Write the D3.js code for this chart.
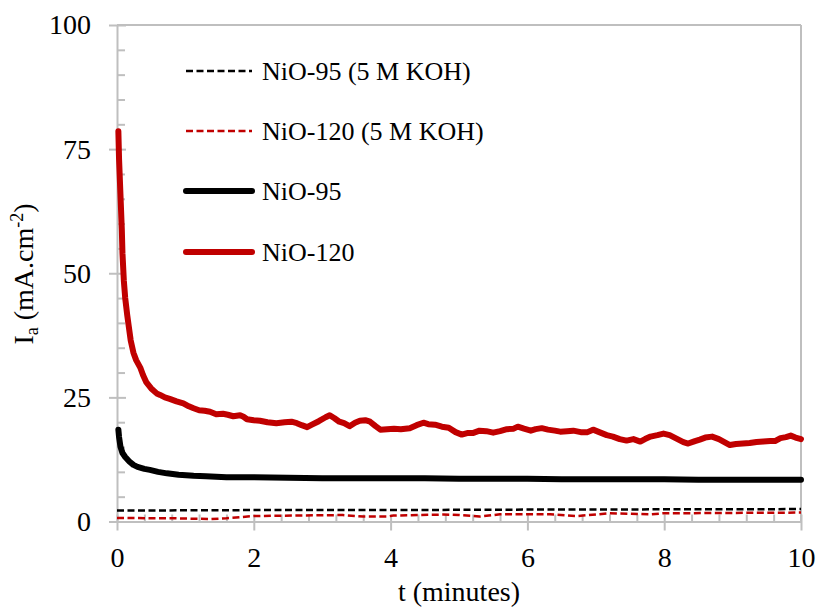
<!DOCTYPE html>
<html>
<head>
<meta charset="utf-8">
<script src="https://cdn.jsdelivr.net/npm/d3@7"></script>
<style>
  html, body { margin: 0; padding: 0; background: #fff; }
  svg { display: block; }
  text { font-family: "Liberation Serif", "Times New Roman", serif; fill: #000; }
</style>
</head>
<body>
<svg id="chart" width="818" height="607"></svg>
<script>
// ---------- data ----------
const xTicks = [0, 2, 4, 6, 8, 10];
const yTicks = [0, 25, 50, 75, 100];

const seriesNames = ["NiO-95 (5 M KOH)", "NiO-120 (5 M KOH)", "NiO-95", "NiO-120"];

// NiO-120 (solid red)
const red120T = [0.02,0.03,0.05,0.07,0.08,0.10,0.12,0.15,0.17,0.20,0.24,0.28,0.34,0.38,0.43,0.50,0.58,0.63,0.70,0.77,0.87,0.97,1.05,1.12,1.20,1.28,1.36,1.45,1.55,1.62,1.70,1.80,1.85,1.90,2.00,2.09,2.20,2.33,2.45,2.55,2.63,2.70,2.78,2.85,2.95,3.05,3.11,3.18,3.25,3.32,3.40,3.48,3.55,3.63,3.70,3.78,3.85,3.95,4.05,4.15,4.28,4.38,4.48,4.55,4.65,4.75,4.85,4.95,5.04,5.12,5.20,5.30,5.40,5.50,5.60,5.70,5.80,5.86,5.95,6.05,6.12,6.21,6.30,6.40,6.48,6.58,6.67,6.78,6.88,6.96,7.05,7.16,7.25,7.35,7.45,7.55,7.65,7.72,7.80,7.90,7.99,8.08,8.18,8.28,8.35,8.45,8.52,8.60,8.70,8.80,8.88,8.96,9.05,9.15,9.25,9.35,9.45,9.55,9.62,9.70,9.78,9.85,9.92,10.0];
const red120I = [78.6,73,66,59,54,48.5,45,41.5,39.5,36.5,34,32.5,31,29.5,28,26.8,25.8,25.5,25,24.7,24.2,23.8,23.2,22.8,22.4,22.3,22.1,21.6,21.7,21.5,21.2,21.4,21.1,20.6,20.4,20.3,20.0,19.8,20.0,20.1,19.8,19.4,19.0,19.5,20.2,21.0,21.4,20.8,20.1,19.8,19.2,19.9,20.3,20.4,20.1,19.2,18.5,18.6,18.7,18.6,18.8,19.4,19.9,19.6,19.5,19.1,18.9,18.0,17.5,17.8,17.8,18.3,18.2,17.9,18.2,18.6,18.7,19.1,18.7,18.3,18.6,18.8,18.5,18.3,18.1,18.2,18.3,18.0,18.0,18.5,18.0,17.4,17.1,16.6,16.3,16.6,16.1,16.6,17.1,17.4,17.7,17.4,16.7,16.0,15.7,16.2,16.5,16.9,17.1,16.6,16.0,15.4,15.6,15.7,15.8,16.0,16.1,16.2,16.2,16.8,17.0,17.3,16.9,16.6];

// NiO-95 (solid black)
const black95T = [0.02,0.03,0.05,0.08,0.12,0.18,0.24,0.30,0.40,0.48,0.60,0.73,0.90,1.12,1.30,1.60,2.00,2.50,3.00,3.50,4.00,4.50,5.00,5.50,6.00,6.50,7.00,7.50,8.00,8.50,9.00,9.50,10.0];
const black95I = [18.5,17.0,15.1,13.8,13.0,12.1,11.4,11.0,10.6,10.4,10.0,9.7,9.4,9.2,9.1,8.9,8.9,8.8,8.7,8.7,8.7,8.7,8.6,8.6,8.6,8.5,8.5,8.5,8.5,8.4,8.4,8.4,8.4];

// NiO-95 (5 M KOH) (dashed black)
const kohBlackT = [0, 2, 4, 6, 8, 10];
const kohBlackI = [2.2, 2.3, 2.3, 2.4, 2.45, 2.5];

// NiO-120 (5 M KOH) (dashed red)
const kohRedT = [0, 0.8, 1.36, 1.6, 2.0, 2.6, 3.3, 3.6, 3.95, 4.04, 4.77, 5.0, 5.3, 5.6, 6.33, 6.72, 7.2, 7.8, 7.98, 8.6, 9.3, 10.0];
const kohRedI = [0.7, 0.65, 0.5, 0.65, 1.1, 1.2, 1.3, 1.0, 1.0, 1.2, 1.4, 1.3, 1.0, 1.45, 1.45, 1.1, 1.65, 1.45, 1.65, 1.7, 1.75, 1.8];

// ---------- drawing ----------
const svg = d3.select("#chart");
const pLeft = 117, pRight = 801, pTop = 25, pBottom = 521.5;
const x = d3.scaleLinear().domain([0, 10]).range([pLeft, pRight]);
const y = d3.scaleLinear().domain([0, 100]).range([pBottom, pTop]);
const gridGrey = "#bfbfbf";

// plot border (top + right)
svg.append("line").attr("x1", pLeft).attr("x2", pRight).attr("y1", pTop).attr("y2", pTop)
  .attr("stroke", gridGrey).attr("stroke-width", 2);
svg.append("line").attr("x1", pRight).attr("x2", pRight).attr("y1", pTop).attr("y2", pBottom)
  .attr("stroke", gridGrey).attr("stroke-width", 2);

// Y axis
const yMinor = d3.range(0, 101, 5).filter(v => v % 25 !== 0);
const yAxisG = svg.append("g").attr("transform", `translate(${pLeft},0)`);
yAxisG.call(d3.axisLeft(y).tickValues(yTicks).tickSize(8).tickSizeOuter(0).tickPadding(18).tickFormat(d3.format("d")));
yAxisG.selectAll(".tick line").attr("x2", 9).attr("x1", -8);
const yMinorG = svg.append("g").attr("transform", `translate(${pLeft},0)`);
yMinorG.call(d3.axisRight(y).tickValues(yMinor).tickSize(8).tickSizeOuter(0).tickFormat(""));
yMinorG.select(".domain").remove();

// X axis
const xMinor = d3.range(0, 10.001, 0.4).filter(v => Math.abs(v / 2 - Math.round(v / 2)) > 1e-6);
const xAxisG = svg.append("g").attr("transform", `translate(0,${pBottom})`);
xAxisG.call(d3.axisBottom(x).tickValues(xTicks).tickSize(9).tickSizeOuter(0).tickPadding(17).tickFormat(d3.format("d")));
xAxisG.selectAll(".tick line").attr("y1", -7).attr("y2", 9);
const xMinorG = svg.append("g").attr("transform", `translate(0,${pBottom})`);
xMinorG.call(d3.axisTop(x).tickValues(xMinor).tickSize(7).tickSizeOuter(0).tickFormat(""));
xMinorG.select(".domain").remove();

[yAxisG, yMinorG, xAxisG, xMinorG].forEach(g => {
  g.selectAll(".domain").attr("stroke", gridGrey).attr("stroke-width", 2);
  g.selectAll(".tick line").attr("stroke", gridGrey).attr("stroke-width", 2);
  g.selectAll(".tick text").attr("font-family", "Liberation Serif").attr("font-size", 28).attr("fill", "#000");
});

// series
const line = d3.line().x(d => x(d[0])).y(d => y(d[1])).curve(d3.curveLinear);
const zip = (a, b) => a.map((v, i) => [v, b[i]]);

const series = [
  { name: seriesNames[0], data: zip(kohBlackT, kohBlackI), color: "#000000", width: 2.5, dash: "7,3.5" },
  { name: seriesNames[1], data: zip(kohRedT, kohRedI), color: "#c00000", width: 2.5, dash: "7,3.5" },
  { name: seriesNames[2], data: zip(black95T, black95I), color: "#000000", width: 6, dash: null },
  { name: seriesNames[3], data: zip(red120T, red120I), color: "#c00000", width: 6, dash: null }
];

series.forEach(s => {
  svg.append("path").datum(s.data)
    .attr("fill", "none").attr("stroke", s.color).attr("stroke-width", s.width)
    .attr("stroke-linejoin", "round").attr("stroke-linecap", s.dash ? "butt" : "round")
    .attr("stroke-dasharray", s.dash)
    .attr("d", line);
});

// legend
const legY = [71, 131, 191, 252];
series.forEach((s, i) => {
  svg.append("line")
    .attr("x1", 186).attr("x2", 252).attr("y1", legY[i]).attr("y2", legY[i])
    .attr("stroke", s.color).attr("stroke-width", s.dash ? 2.5 : 6)
    .attr("stroke-linecap", s.dash ? "butt" : "round")
    .attr("stroke-dasharray", s.dash);
  svg.append("text").attr("x", 262).attr("y", legY[i] + 9)
    .attr("font-size", 26).text(s.name);
});

// axis titles
svg.append("text").attr("x", (pLeft + pRight) / 2).attr("y", 601)
  .attr("text-anchor", "middle").attr("font-size", 28).text("t (minutes)");

const yt = svg.append("text").attr("transform", "translate(33,274) rotate(-90)")
  .attr("text-anchor", "middle").attr("font-size", 28);
yt.append("tspan").text("I");
yt.append("tspan").attr("font-size", 18).attr("dy", 5).text("a");
yt.append("tspan").attr("dy", -5).text(" (mA.cm");
yt.append("tspan").attr("font-size", 18).attr("dy", -10).text("-2");
yt.append("tspan").attr("dy", 10).text(")");
</script>
</body>
</html>
